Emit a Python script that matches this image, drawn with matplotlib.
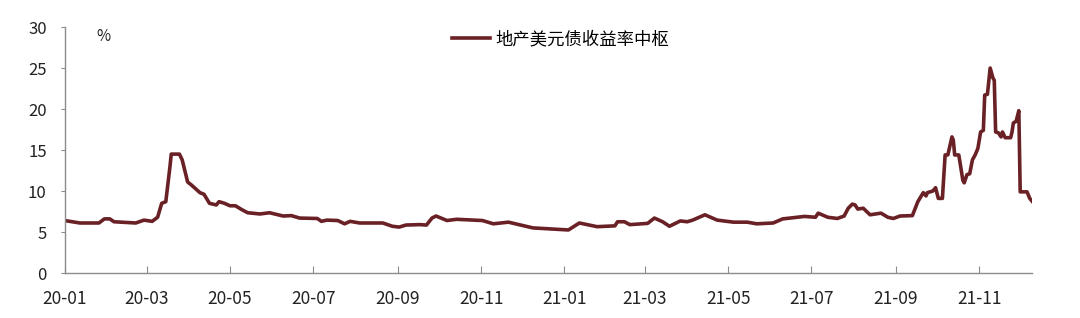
import matplotlib
matplotlib.use("Agg")
import matplotlib.pyplot as plt
import matplotlib.dates as mdates
import pandas as pd

plt.rcParams['font.family'] = ['Noto Sans CJK SC', 'DejaVu Sans']

dates = [
    "2020-01-01", "2020-01-12", "2020-01-26", "2020-01-30", "2020-02-03", "2020-02-06",
    "2020-02-22", "2020-02-28", "2020-03-05", "2020-03-09", "2020-03-12", "2020-03-15",
    "2020-03-18", "2020-03-19", "2020-03-25", "2020-03-27", "2020-03-31", "2020-04-03",
    "2020-04-09", "2020-04-12", "2020-04-16", "2020-04-21", "2020-04-23", "2020-04-27",
    "2020-05-01", "2020-05-05", "2020-05-10", "2020-05-14", "2020-05-23", "2020-05-30",
    "2020-06-09", "2020-06-15", "2020-06-21", "2020-07-04", "2020-07-07", "2020-07-11",
    "2020-07-19", "2020-07-24", "2020-07-28", "2020-08-04", "2020-08-21", "2020-08-28",
    "2020-09-02", "2020-09-07", "2020-09-17", "2020-09-22", "2020-09-26", "2020-09-29",
    "2020-10-07", "2020-10-14", "2020-11-02", "2020-11-10", "2020-11-21", "2020-12-09",
    "2021-01-04", "2021-01-12", "2021-01-25", "2021-02-07", "2021-02-09", "2021-02-14",
    "2021-02-18", "2021-03-03", "2021-03-08", "2021-03-14", "2021-03-19", "2021-03-27",
    "2021-04-01", "2021-04-05", "2021-04-14", "2021-04-23", "2021-05-05", "2021-05-15",
    "2021-05-22", "2021-06-03", "2021-06-10", "2021-06-21", "2021-06-26", "2021-07-04",
    "2021-07-06", "2021-07-13", "2021-07-20", "2021-07-25", "2021-07-28", "2021-07-31",
    "2021-08-02", "2021-08-04", "2021-08-08", "2021-08-13", "2021-08-21", "2021-08-26",
    "2021-08-30", "2021-09-04", "2021-09-13", "2021-09-17", "2021-09-21", "2021-09-23",
    "2021-09-24", "2021-09-28", "2021-09-30", "2021-10-02", "2021-10-05", "2021-10-07",
    "2021-10-09", "2021-10-12", "2021-10-13", "2021-10-14", "2021-10-17", "2021-10-20",
    "2021-10-21", "2021-10-23", "2021-10-25", "2021-10-27", "2021-10-29", "2021-10-31",
    "2021-11-02", "2021-11-04", "2021-11-05", "2021-11-07", "2021-11-09", "2021-11-11",
    "2021-11-12", "2021-11-13", "2021-11-15", "2021-11-17", "2021-11-18", "2021-11-20",
    "2021-11-24", "2021-11-25", "2021-11-26", "2021-11-28", "2021-11-30", "2021-12-01",
    "2021-12-06", "2021-12-08", "2021-12-10",
]
yields = [
    6.4, 6.1, 6.1, 6.6, 6.6, 6.25,
    6.1, 6.45, 6.3, 6.8, 8.5, 8.7,
    12.9, 14.5, 14.5, 13.8, 11.1, 10.7,
    9.8, 9.6, 8.5, 8.3, 8.7, 8.5,
    8.2, 8.2, 7.7, 7.35, 7.2, 7.35,
    6.95, 7.0, 6.7, 6.65, 6.3, 6.45,
    6.4, 6.0, 6.3, 6.1, 6.1, 5.7,
    5.6, 5.85, 5.9, 5.85, 6.7, 6.95,
    6.4, 6.55, 6.4, 6.0, 6.2, 5.5,
    5.25, 6.1, 5.65, 5.75, 6.25, 6.25,
    5.9, 6.05, 6.7, 6.25, 5.7, 6.35,
    6.25, 6.45, 7.1, 6.45, 6.2, 6.2,
    6.0, 6.1, 6.6, 6.8, 6.9, 6.8,
    7.3, 6.8, 6.65, 6.95, 7.9, 8.4,
    8.3, 7.8, 7.9, 7.1, 7.3, 6.8,
    6.65, 6.95, 7.0, 8.7, 9.8, 9.4,
    9.8, 10.0, 10.4, 9.1, 9.1, 14.4,
    14.4, 16.6, 16.2, 14.4, 14.4, 11.3,
    11.0, 12.0, 12.1, 13.8, 14.4, 15.2,
    17.2, 17.4, 21.7, 21.8, 25.0, 23.8,
    23.5, 17.2, 17.1, 16.6, 17.2, 16.5,
    16.5, 17.2, 18.3, 18.5, 19.8, 9.9,
    9.9, 9.1, 8.7,
]
series_name = "地产美元债收益率中枢"

x = pd.to_datetime(dates)

fig = plt.figure(figsize=(10.8, 3.18), dpi=100)
ax = fig.add_axes([0.060, 0.1415, 0.896, 0.7735])

ax.plot(x, yields, color="#6A2125", linewidth=2.6, label=series_name)

ax.set_xlim(pd.Timestamp("2020-01-01"), pd.Timestamp("2021-12-10"))
ax.set_ylim(0, 30)
ax.set_yticks(range(0, 31, 5))
ax.xaxis.set_major_locator(mdates.MonthLocator(bymonth=[1, 3, 5, 7, 9, 11]))
ax.xaxis.set_major_formatter(mdates.DateFormatter("%y-%m"))

for s in ["top", "right"]:
    ax.spines[s].set_visible(False)
for s in ["left", "bottom"]:
    ax.spines[s].set_color("#8c8c8c")
    ax.spines[s].set_linewidth(1)

ax.tick_params(axis="x", direction="in", length=5, color="#8c8c8c", labelsize=12.5,
               labelcolor="#222222", pad=12)
ax.tick_params(axis="y", direction="out", length=3, color="#8c8c8c", labelsize=12,
               labelcolor="#222222", pad=10)

ax.text(0.033, 0.96, "%", transform=ax.transAxes, fontsize=11, color="#222222",
        va="center", ha="left")

ax.legend(loc="upper center", bbox_to_anchor=(0.512, 1.05), frameon=False,
          fontsize=12.5, handlelength=2.2, handletextpad=0.3)

fig.savefig("out.png", dpi=100)
